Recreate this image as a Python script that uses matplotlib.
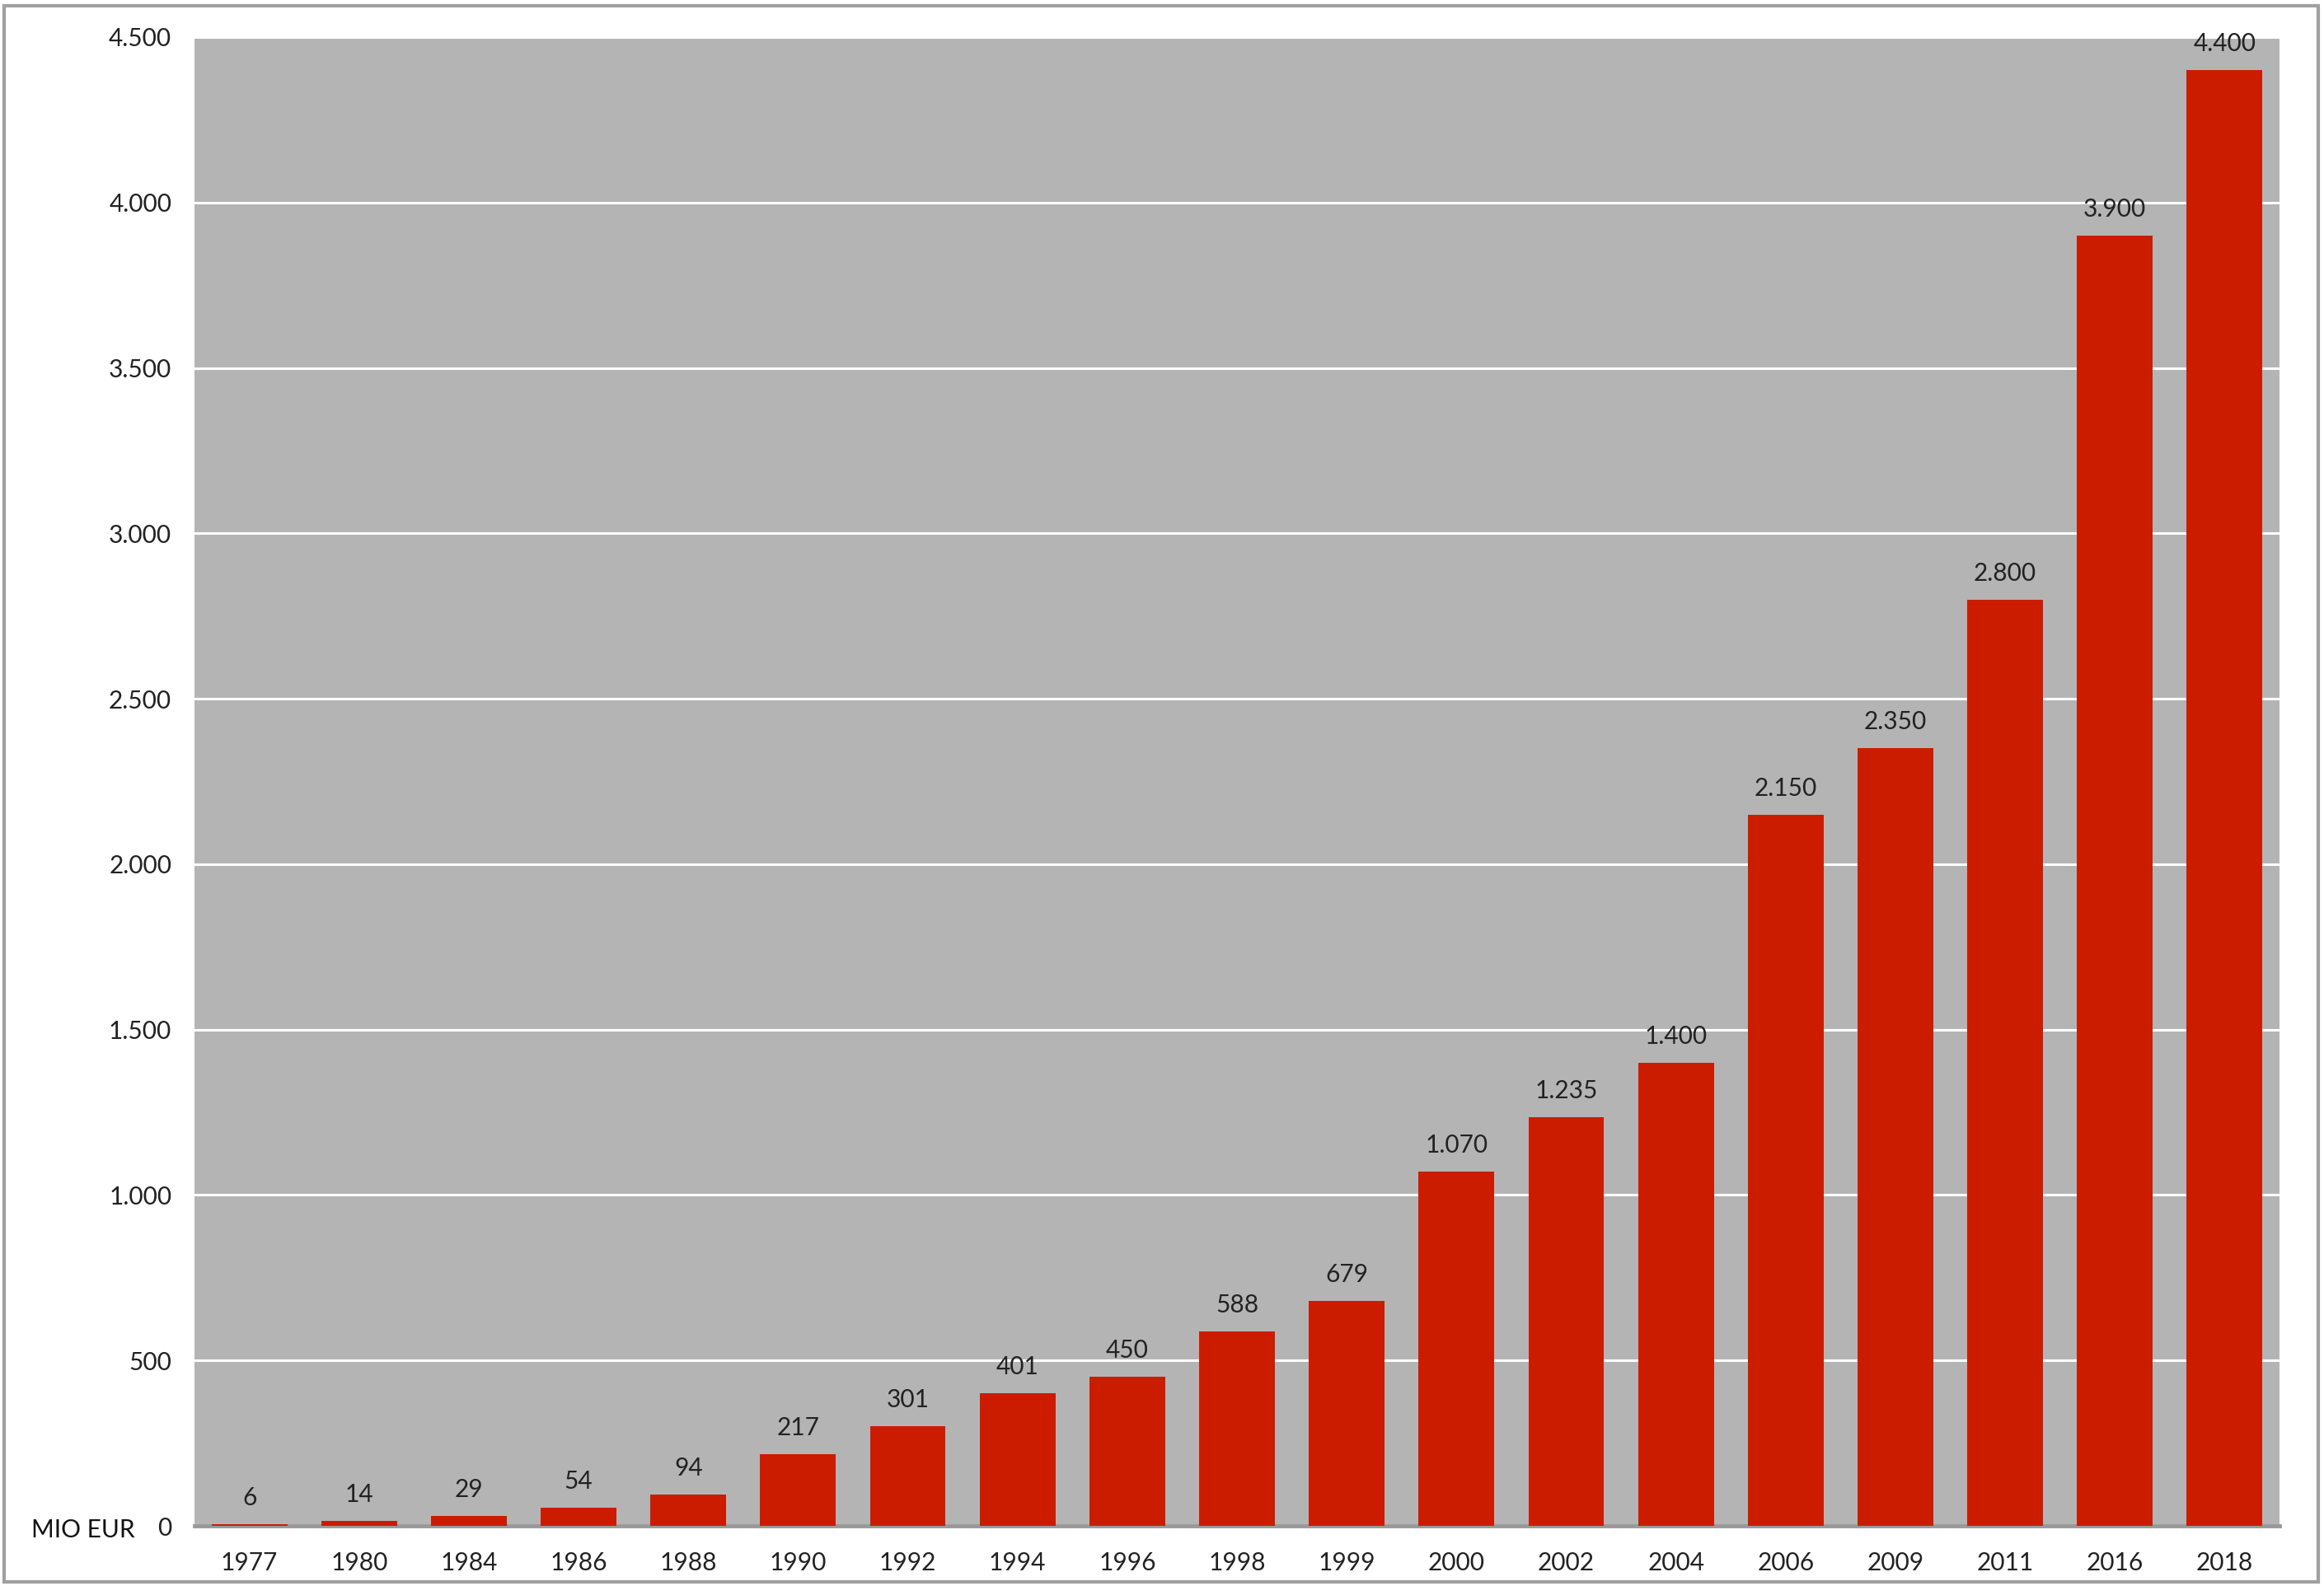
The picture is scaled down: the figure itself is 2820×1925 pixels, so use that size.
import matplotlib
matplotlib.use("Agg")
import matplotlib.pyplot as plt
from matplotlib.patches import Rectangle
from matplotlib.ticker import FuncFormatter, MultipleLocator

years = ["1977", "1980", "1984", "1986", "1988", "1990", "1992", "1994", "1996", "1998",
         "1999", "2000", "2002", "2004", "2006", "2009", "2011", "2016", "2018"]
values = [6, 14, 29, 54, 94, 217, 301, 401, 450, 588, 679, 1070, 1235, 1400, 2150,
          2350, 2800, 3900, 4400]

plt.rcParams['font.family'] = ['Lato', 'DejaVu Sans']

W, H = 2820, 1925
fig = plt.figure(figsize=(W / 100, H / 100), dpi=100)
ax = fig.add_axes([236 / W, 1 - 1852 / H, (2766 - 236) / W, (1852 - 45) / H])

def fmt(v):
    return f"{int(v):,}".replace(",", ".")

FS = 21.5
x = list(range(len(years)))
ax.set_facecolor("#B4B4B4")
ax.bar(x, values, width=0.69, color="#CC1C00", zorder=3)
ax.set_xlim(-0.5, len(years) - 0.5)
ax.set_ylim(0, 4500)
ax.yaxis.set_major_locator(MultipleLocator(500))
ax.yaxis.set_major_formatter(FuncFormatter(lambda v, p: fmt(v)))
ax.grid(axis="y", color="white", linewidth=2.2, zorder=1)
ax.set_xticks(x)
ax.set_xticklabels(years)
ax.tick_params(axis="both", length=0, labelsize=FS, colors="#222222")
ax.tick_params(axis="x", pad=22)
ax.tick_params(axis="y", pad=20)
for s in ["top", "right", "left"]:
    ax.spines[s].set_visible(False)
ax.spines["bottom"].set_color("#999999")
ax.spines["bottom"].set_linewidth(3.5)
ax.spines["bottom"].set_zorder(2)

for xi, v in zip(x, values):
    ax.annotate(fmt(v), (xi, v), xytext=(0, 13), textcoords="offset points",
                ha="center", va="bottom", fontsize=FS, color="#222222", zorder=5)

fig.text(38 / W, 1 - 1857 / H, "MIO EUR", fontsize=FS, color="#111111", ha="left", va="center")

fig.patches.append(Rectangle((5 / W, 5 / H), (W - 12) / W, (H - 12) / H,
                             transform=fig.transFigure, fill=False,
                             edgecolor="#A0A0A0", linewidth=3))

fig.savefig("out.png", dpi=100, facecolor="white")
